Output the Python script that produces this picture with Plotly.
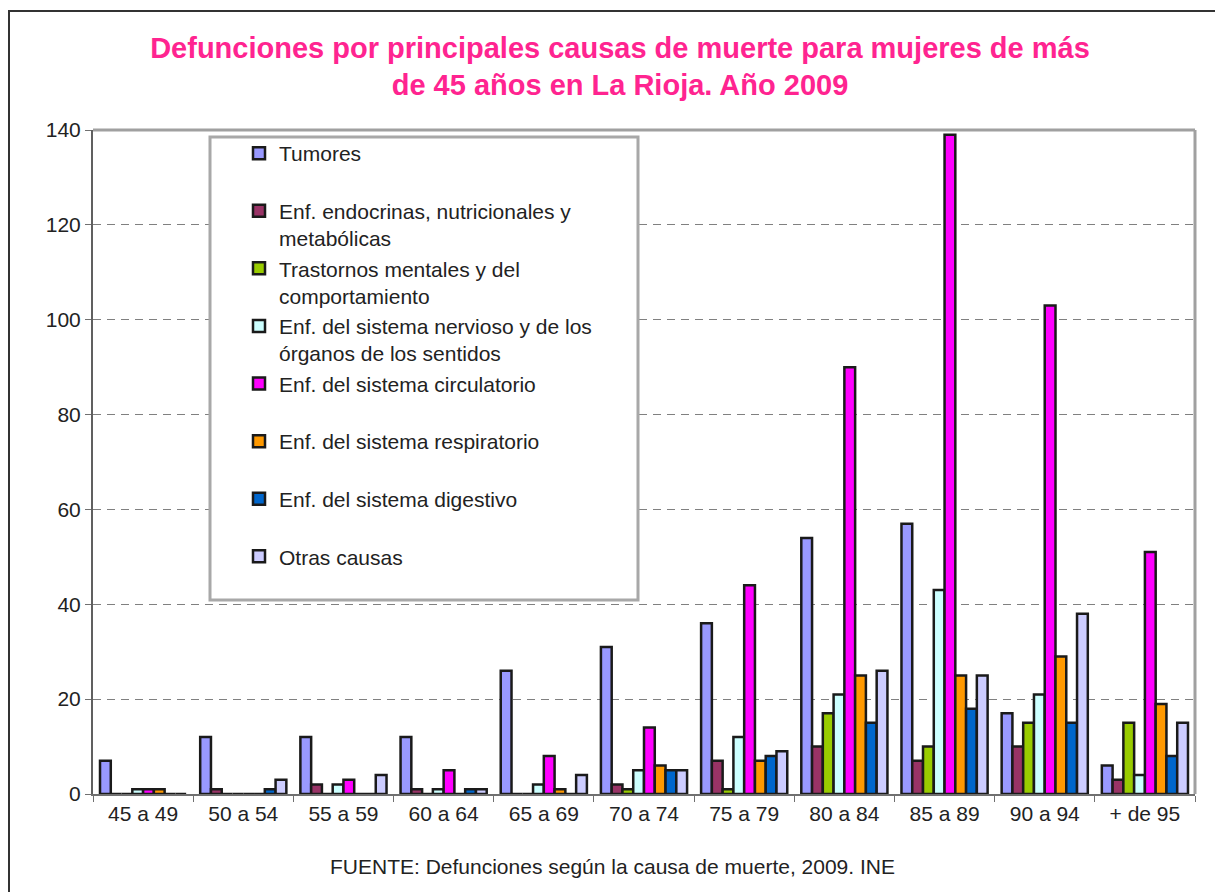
import plotly.graph_objects as go

categories = ["45 a 49", "50 a 54", "55 a 59", "60 a 64", "65 a 69", "70 a 74",
              "75 a 79", "80 a 84", "85 a 89", "90 a 94", "+ de 95"]

tumores      = [7, 12, 12, 12, 26, 31, 36, 54, 57, 17, 6]
endocrinas   = [0, 1, 2, 1, 0, 2, 7, 10, 7, 10, 3]
mentales     = [0, 0, 0, 0, 0, 1, 1, 17, 10, 15, 15]
nervioso     = [1, 0, 2, 1, 2, 5, 12, 21, 43, 21, 4]
circulatorio = [1, 0, 3, 5, 8, 14, 44, 90, 139, 103, 51]
respiratorio = [1, 0, 0, 0, 1, 6, 7, 25, 25, 29, 19]
digestivo    = [0, 1, 0, 1, 0, 5, 8, 15, 18, 15, 8]
otras        = [0, 3, 4, 1, 4, 5, 9, 26, 25, 38, 15]

series_names = [
    "Tumores<br> ",
    "Enf. endocrinas, nutricionales y<br>metabólicas",
    "Trastornos mentales y del<br>comportamiento",
    "Enf. del sistema nervioso y de los<br>órganos de los sentidos",
    "Enf. del sistema circulatorio<br> ",
    "Enf. del sistema respiratorio<br> ",
    "Enf. del sistema digestivo<br> ",
    "Otras causas<br> ",
]
series_values = [tumores, endocrinas, mentales, nervioso, circulatorio,
                 respiratorio, digestivo, otras]
series_colors = ["#9999FF", "#993366", "#99CC00", "#CCFFFF", "#FF00FF",
                 "#FF9900", "#0066CC", "#CCCCFF"]

FONT = "Liberation Sans, Arial, sans-serif"
FS = 21

fig = go.Figure()
for i, (name, vals, col) in enumerate(zip(series_names, series_values, series_colors)):
    fig.add_trace(go.Bar(
        x=categories, y=vals, name=name,
        marker=dict(color=col, line=dict(color="#1a1a1a", width=2.5)),
        legendgroup=f"g{i}",
    ))

OFF = 8  # default page body margin
W, H = 1223 - OFF, 892 - OFF
L, T = 93 - OFF, 130 - OFF
R = W - (1195 - OFF)
B = H - (794 - OFF)
pw, ph = W - L - R, H - T - B

def px(x):
    return (x - OFF - L) / pw

def py(y):
    return (H - B - (y - OFF)) / ph

fig.update_layout(
    width=W, height=H,
    margin=dict(l=L, r=R, t=T, b=B, autoexpand=False),
    paper_bgcolor="white", plot_bgcolor="white",
    barmode="group", bargap=0.14, bargroupgap=0,
    font=dict(family=FONT, size=FS, color="#222222"),
    title=dict(
        text="Defunciones por principales causas de muerte para mujeres de más<br>de 45 años en La Rioja. Año 2009",
        font=dict(family=FONT, size=29, color="#FF2490", weight="bold"),
        x=px(620), xanchor="center", xref="paper",
        y=1 - (57.5 - OFF) / H, yanchor="middle",
    ),
    showlegend=True,
    legend=dict(
        x=px(239), y=py(133), xanchor="left", yanchor="top",
        bgcolor="rgba(0,0,0,0)", borderwidth=0,
        font=dict(family=FONT, size=FS, color="#222222"),
        traceorder="grouped", tracegroupgap=0, valign="top",
    ),
    xaxis=dict(
        type="category", showline=True, linecolor="#707070", linewidth=2,
        ticks="outside", tickson="boundaries", ticklen=6, tickcolor="#707070",
        tickwidth=1, showgrid=False, mirror=False,
        tickfont=dict(family=FONT, size=FS, color="#222222"),
        fixedrange=True,
    ),
    yaxis=dict(
        range=[0, 140], dtick=20, tick0=0,
        showline=True, linecolor="#606060", linewidth=2,
        ticks="outside", ticklen=6, tickcolor="#707070",
        showgrid=True, gridcolor="#808080", gridwidth=1, griddash="8px,6px",
        zeroline=False,
        tickfont=dict(family=FONT, size=FS, color="#222222"),
        fixedrange=True,
    ),
    shapes=[
        # outer chart border
        dict(type="rect", xref="paper", yref="paper",
             x0=px(9), y0=py(H + 40), x1=px(W + 40), y1=py(11),
             line=dict(color="#333333", width=2), fillcolor="rgba(0,0,0,0)", layer="below"),
        # plot area top / right border
        dict(type="line", xref="paper", yref="paper", x0=0, y0=1, x1=1, y1=1,
             line=dict(color="#A0A0A0", width=3)),
        dict(type="line", xref="paper", yref="paper", x0=1, y0=0, x1=1, y1=1,
             line=dict(color="#A0A0A0", width=3)),
        # legend box
        dict(type="rect", xref="paper", yref="paper",
             x0=px(210), y0=py(600), x1=px(638), y1=py(137),
             line=dict(color="#A8A8A8", width=3), fillcolor="white", layer="above"),
    ],
    annotations=[
        dict(text="FUENTE: Defunciones según la causa de muerte, 2009. INE",
             xref="paper", yref="paper", x=px(612), y=py(866),
             xanchor="center", yanchor="middle", showarrow=False,
             font=dict(family=FONT, size=FS, color="#222222")),
    ],
)

fig.write_html("out.html")
